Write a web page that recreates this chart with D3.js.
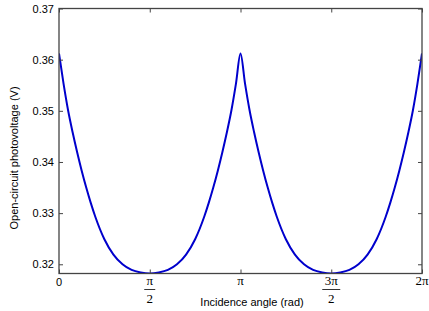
<!DOCTYPE html>
<html>
<head>
<meta charset="utf-8">
<script src="https://cdn.jsdelivr.net/npm/d3@7/dist/d3.min.js"></script>
<style>
  html, body { margin: 0; padding: 0; background: #fff; }
  svg { display: block; }
</style>
</head>
<body>
<script>
// Incidence angle in units of pi
const anglesOverPi = [
  0, 0.025, 0.05, 0.075, 0.1, 0.125, 0.15, 0.175, 0.2, 0.25, 0.3, 0.35, 0.4, 0.45, 0.5,
  0.55, 0.6, 0.65, 0.7, 0.75, 0.8, 0.825, 0.85, 0.875, 0.9, 0.925, 0.95, 0.975, 1,
  1.025, 1.05, 1.075, 1.1, 1.125, 1.15, 1.175, 1.2, 1.25, 1.3, 1.35, 1.4, 1.45, 1.5,
  1.55, 1.6, 1.65, 1.7, 1.75, 1.8, 1.825, 1.85, 1.875, 1.9, 1.925, 1.95, 1.975, 2
];
// Open-circuit photovoltage (V)
const voltages = [
  0.3612, 0.3553, 0.3501, 0.3458, 0.3419, 0.3383, 0.3350, 0.3320, 0.3293, 0.3249, 0.3219, 0.3200, 0.3189, 0.3184, 0.3182,
  0.3184, 0.3189, 0.3200, 0.3219, 0.3249, 0.3293, 0.3320, 0.3350, 0.3383, 0.3419, 0.3458, 0.3501, 0.3553, 0.3612,
  0.3553, 0.3501, 0.3458, 0.3419, 0.3383, 0.3350, 0.3320, 0.3293, 0.3249, 0.3219, 0.3200, 0.3189, 0.3184, 0.3182,
  0.3184, 0.3189, 0.3200, 0.3219, 0.3249, 0.3293, 0.3320, 0.3350, 0.3383, 0.3419, 0.3458, 0.3501, 0.3553, 0.3612
];
const yTicks = [0.32, 0.33, 0.34, 0.35, 0.36, 0.37];
const xTicksOverPi = [0, 0.5, 1, 1.5, 2];
const xTickNumerators = ["0", "π", "π", "3π", "2π"];
const xTickDenominators = ["", "2", "", "2", ""];
const xLabel = "Incidence angle (rad)";
const yLabel = "Open-circuit photovoltage (V)";

const W = 429, H = 311;
const m = { left: 59, right: 7, top: 8.5, bottom: 37.5 };
const x0 = m.left, x1 = W - m.right, y0 = H - m.bottom, y1 = m.top;

const svg = d3.select("body").append("svg").attr("width", W).attr("height", H);

const x = d3.scaleLinear().domain([0, 2 * Math.PI]).range([x0, x1]);
const y = d3.scaleLinear().domain([0.3182, 0.37]).range([y0, y1]);

const axisColor = "#444";
const sans = "Liberation Sans, Arial, sans-serif";
const serif = "Liberation Serif, Times New Roman, serif";

// data line (clipped to plot)
svg.append("clipPath").attr("id", "clip").append("rect")
  .attr("x", x0).attr("y", y1 - 2).attr("width", x1 - x0).attr("height", y0 - y1 + 2);

const pts = anglesOverPi.map((a, i) => [a * Math.PI, voltages[i]]);
svg.append("path")
  .datum(pts)
  .attr("clip-path", "url(#clip)")
  .attr("fill", "none")
  .attr("stroke", "#0000cc")
  .attr("stroke-width", 2)
  .attr("stroke-linejoin", "round")
  .attr("d", d3.line().x(d => x(d[0])).y(d => y(d[1])).curve(d3.curveMonotoneX));

const xt = xTicksOverPi.map(v => v * Math.PI);

function styleAxis(g) {
  g.select(".domain").remove();
  g.selectAll(".tick line").attr("stroke", axisColor);
}

// bottom axis
const gB = svg.append("g").attr("transform", `translate(0,${y0})`)
  .call(d3.axisBottom(x).tickValues(xt).tickSize(-4).tickFormat(""));
styleAxis(gB);
// top axis
const gT = svg.append("g").attr("transform", `translate(0,${y1})`)
  .call(d3.axisTop(x).tickValues(xt).tickSize(-4).tickFormat(""));
styleAxis(gT);
// left axis
const gL = svg.append("g").attr("transform", `translate(${x0},0)`)
  .call(d3.axisLeft(y).tickValues(yTicks).tickSize(-4).tickPadding(5).tickFormat(d3.format(".2f")));
styleAxis(gL);
gL.selectAll("text").attr("font-family", sans).attr("font-size", 11).attr("fill", "#000");
// right axis
const gR = svg.append("g").attr("transform", `translate(${x1},0)`)
  .call(d3.axisRight(y).tickValues(yTicks).tickSize(-4).tickFormat(""));
styleAxis(gR);

// frame
svg.append("rect")
  .attr("x", x0).attr("y", y1).attr("width", x1 - x0).attr("height", y0 - y1)
  .attr("fill", "none").attr("stroke", axisColor).attr("stroke-width", 1.3);

// x tick labels (pi fractions)
xt.forEach((v, i) => {
  const cx = x(v);
  const num = xTickNumerators[i], den = xTickDenominators[i];
  if (num === "0") {
    svg.append("text").attr("x", cx).attr("y", y0 + 12).attr("text-anchor", "middle")
      .attr("font-family", sans).attr("font-size", 11).text(num);
    return;
  }
  svg.append("text").attr("x", cx).attr("y", y0 + 11).attr("text-anchor", "middle")
    .attr("font-family", serif).attr("font-size", 13).text(num);
  if (den) {
    const bw = num.length > 1 ? 18 : 11;
    svg.append("line").attr("x1", cx - bw / 2).attr("x2", cx + bw / 2)
      .attr("y1", y0 + 16).attr("y2", y0 + 16).attr("stroke", "#000").attr("stroke-width", 0.8);
    svg.append("text").attr("x", cx).attr("y", y0 + 29).attr("text-anchor", "middle")
      .attr("font-family", serif).attr("font-size", 13).text(den);
  }
});

// axis titles
svg.append("text").attr("x", 252).attr("y", 306).attr("text-anchor", "middle")
  .attr("font-family", sans).attr("font-size", 11).text(xLabel);
svg.append("text").attr("transform", `translate(18,158) rotate(-90)`)
  .attr("text-anchor", "middle").attr("font-family", sans).attr("font-size", 11).text(yLabel);
</script>
</body>
</html>
